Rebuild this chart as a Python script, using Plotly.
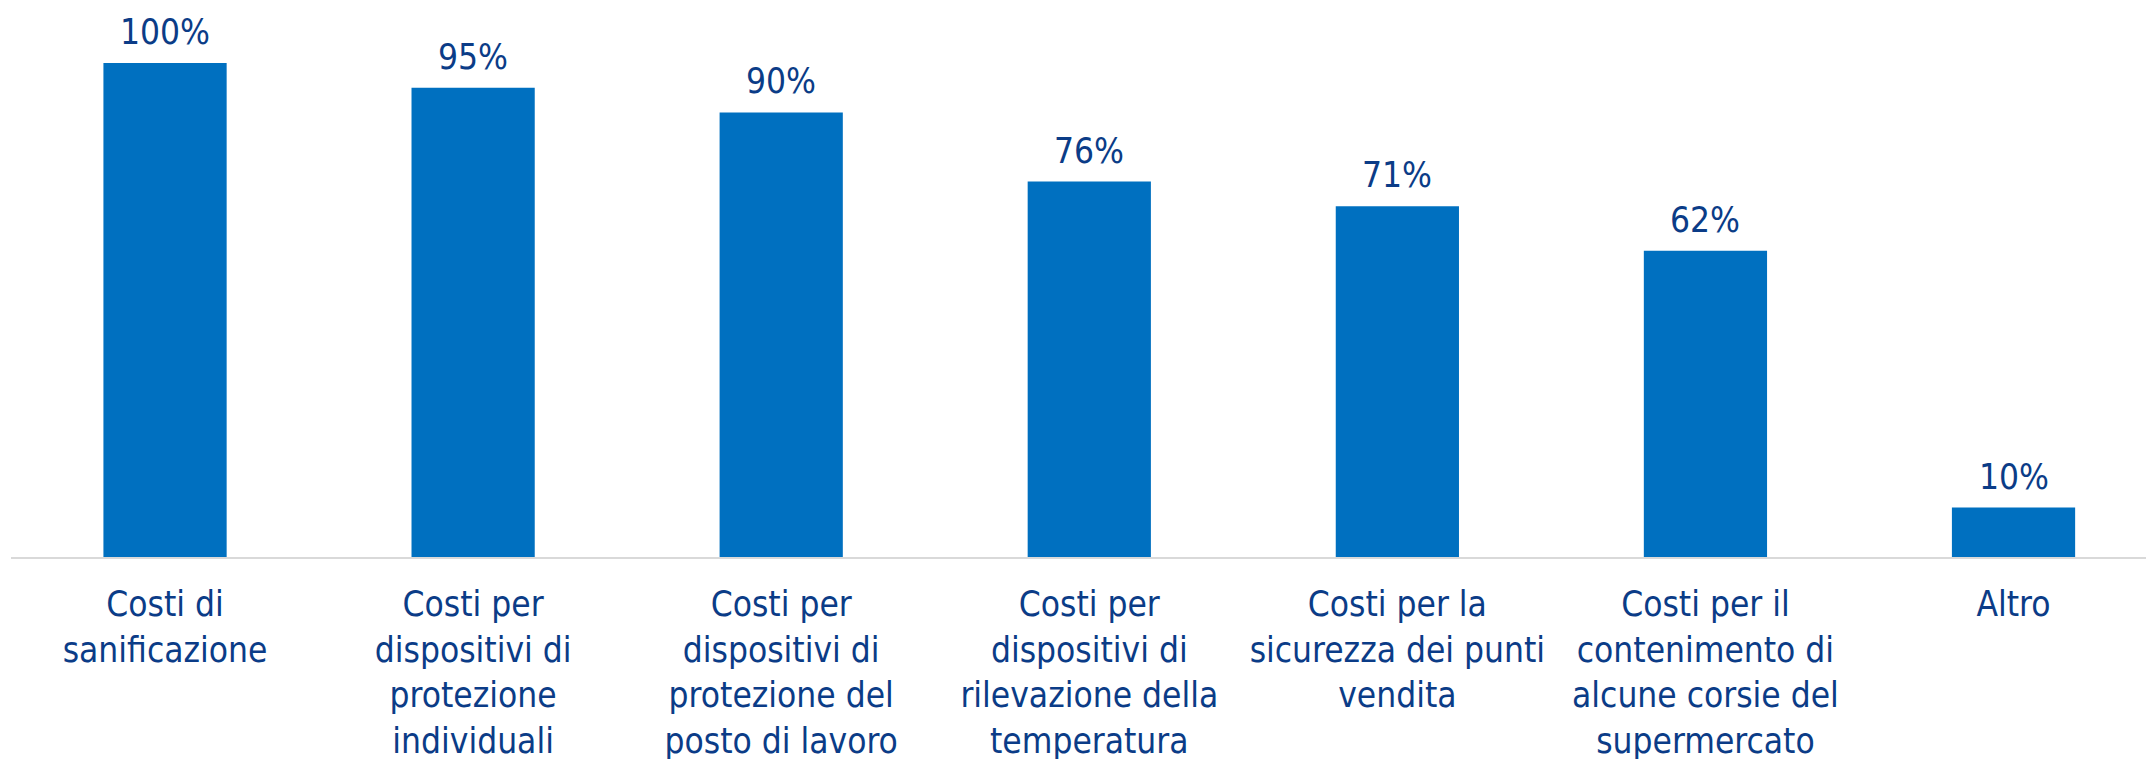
import plotly.graph_objects as go

categories = [
    "Costi di<br>sanificazione",
    "Costi per<br>dispositivi di<br>protezione<br>individuali",
    "Costi per<br>dispositivi di<br>protezione del<br>posto di lavoro",
    "Costi per<br>dispositivi di<br>rilevazione della<br>temperatura",
    "Costi per la<br>sicurezza dei punti<br>vendita",
    "Costi per il<br>contenimento di<br>alcune corsie del<br>supermercato",
    "Altro",
]
values = [100, 95, 90, 76, 71, 62, 10]
labels = [f"{v}%" for v in values]

BAR = "#0070C0"
TXT = "#0B3C87"
FONT = "DejaVu Sans Condensed, DejaVu Sans"
FS = 35

fig = go.Figure()
fig.add_trace(go.Bar(
    x=categories, y=values, marker=dict(color=BAR, line=dict(width=0)),
    width=0.4, showlegend=False, hoverinfo="skip",
))
for c, v, t in zip(categories, values, labels):
    fig.add_annotation(x=c, y=v, text=t, showarrow=False, yanchor="bottom",
                       yshift=9, font=dict(family=FONT, size=FS, color=TXT))

fig.update_layout(
    width=2146, height=759,
    margin=dict(l=11, r=0, t=0, b=202),
    plot_bgcolor="white", paper_bgcolor="white",
    bargap=0.6,
)
fig.update_xaxes(
    range=[-0.5, 6.43], showgrid=False, showline=True, linecolor="#D9D9D9",
    linewidth=2, ticks="", tickfont=dict(family=FONT, size=FS, color=TXT),
    ticklabelstandoff=15, automargin=False,
)
fig.update_yaxes(range=[0, 112.75], visible=False, showgrid=False, zeroline=False)

fig.write_html("out.html")
